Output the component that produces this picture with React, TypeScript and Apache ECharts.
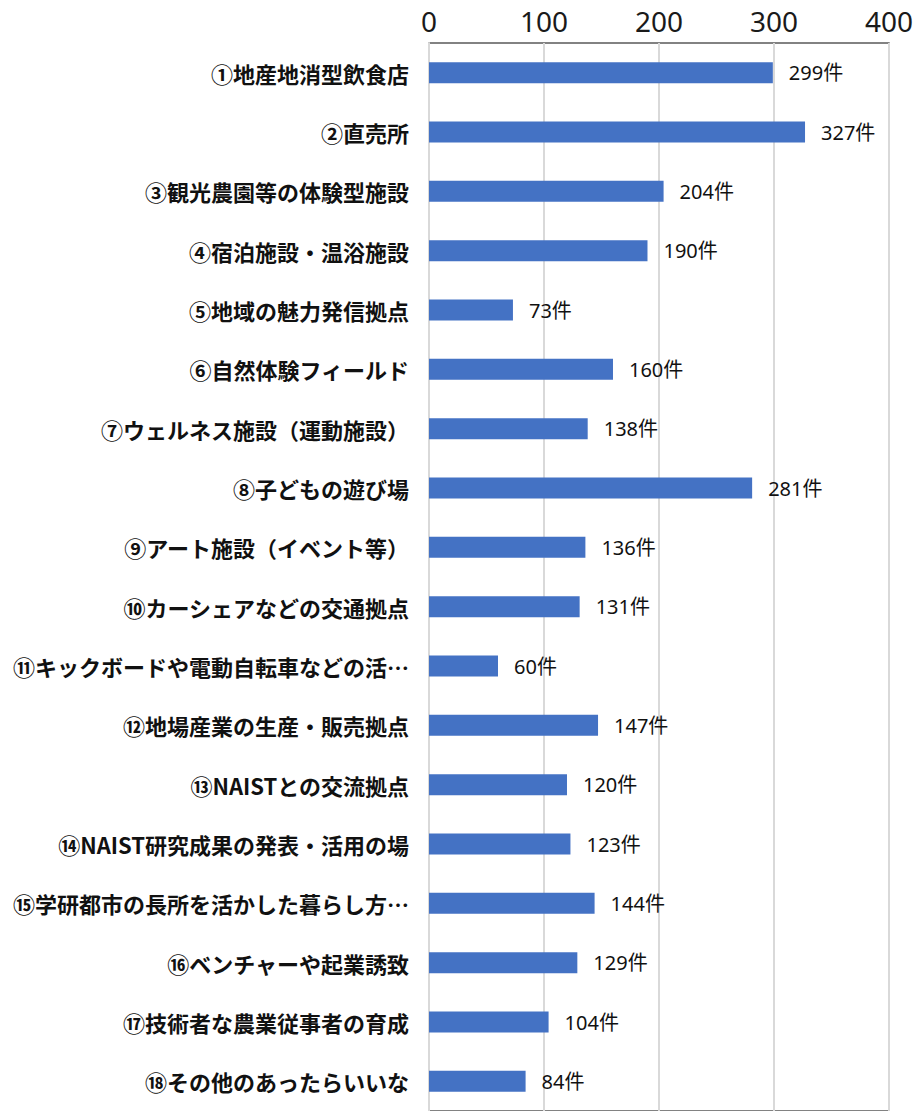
import React, { useEffect, useRef } from "react";
import * as echarts from "echarts";

const categories: string[] = [
  "①地産地消型飲食店",
  "②直売所",
  "③観光農園等の体験型施設",
  "④宿泊施設・温浴施設",
  "⑤地域の魅力発信拠点",
  "⑥自然体験フィールド",
  "⑦ウェルネス施設（運動施設）",
  "⑧子どもの遊び場",
  "⑨アート施設（イベント等）",
  "⑩カーシェアなどの交通拠点",
  "⑪キックボードや電動自転車などの活…",
  "⑫地場産業の生産・販売拠点",
  "⑬NAISTとの交流拠点",
  "⑭NAIST研究成果の発表・活用の場",
  "⑮学研都市の長所を活かした暮らし方…",
  "⑯ベンチャーや起業誘致",
  "⑰技術者な農業従事者の育成",
  "⑱その他のあったらいいな",
];

const counts: number[] = [299, 327, 204, 190, 73, 160, 138, 281, 136, 131, 60, 147, 120, 123, 144, 129, 104, 84];

const tickValues: number[] = [0, 100, 200, 300, 400];

export default function App() {
  const ref = useRef<HTMLDivElement>(null);
  useEffect(() => {
    if (!ref.current) return;
    const chart = echarts.init(ref.current, undefined, { renderer: "svg" });
    const font = '"Noto Sans CJK JP", "Noto Sans", sans-serif';
    const numFont = '"Noto Sans", "Noto Sans CJK JP", sans-serif';
    chart.setOption({
      animation: false,
      backgroundColor: "#ffffff",
      grid: {
        left: 429,
        right: 27,
        top: 43,
        height: 1069,
        show: true,
        borderColor: "#595959",
        borderWidth: 1.5,
        containLabel: false,
      },
      xAxis: {
        type: "value",
        position: "top",
        min: tickValues[0],
        max: tickValues[tickValues.length - 1],
        interval: 100,
        axisLine: { show: false },
        axisTick: { show: false },
        axisLabel: { color: "#1a1a1a", fontSize: 28, fontFamily: numFont, margin: 8 },
        splitLine: { show: true, lineStyle: { color: "#d9d9d9", width: 2 } },
      },
      yAxis: {
        type: "category",
        inverse: true,
        data: categories,
        axisLine: { show: true, lineStyle: { color: "#d9d9d9", width: 2 } },
        axisTick: { show: false },
        axisLabel: {
          color: "#111",
          fontSize: 22,
          fontWeight: "bold",
          fontFamily: font,
          margin: 20,
        },
      },
      series: [
        {
          type: "bar",
          data: counts,
          barWidth: 21,
          itemStyle: { color: "#4472C4" },
          label: {
            show: true,
            position: "right",
            distance: 16,
            formatter: (p: any) => `${p.value}件`,
            color: "#111",
            fontSize: 20,
            fontFamily: numFont,
          },
        },
      ],
    });
    return () => chart.dispose();
  }, []);
  return (
    <div
      ref={ref}
      style={{ position: "absolute", left: 0, top: 0, width: 916, height: 1111 }}
    />
  );
}
